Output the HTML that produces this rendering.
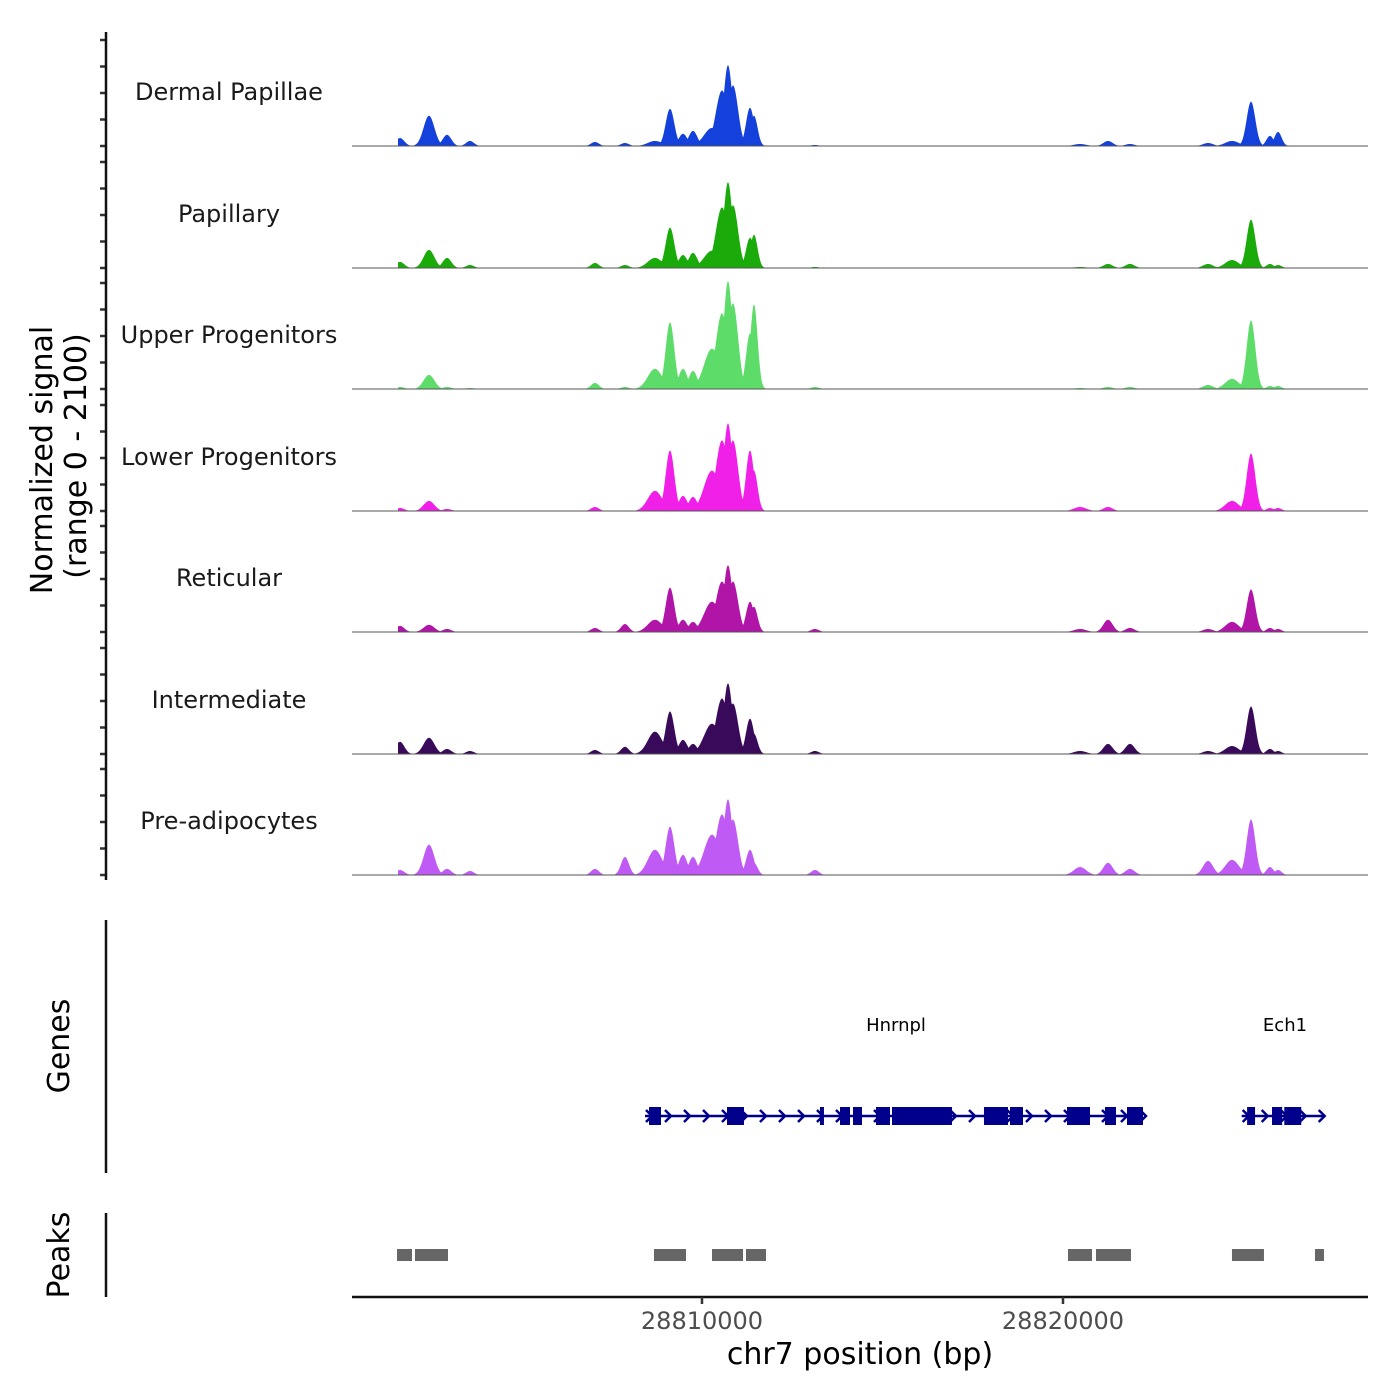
<!DOCTYPE html>
<html><head><meta charset="utf-8"><style>
body{margin:0;background:#fff}
svg{display:block;font-family:"DejaVu Sans","Liberation Sans",sans-serif}
</style></head><body>
<svg id="chart" width="1400" height="1400" viewBox="0 0 1400 1400" xmlns="http://www.w3.org/2000/svg">
<rect width="1400" height="1400" fill="#fff"/>
<g id="tracks"></g>
<g id="axes"></g>
<g id="genes"></g>
<g id="peaks"></g>
</svg>
<script>
const trackNames=["Dermal Papillae","Papillary","Upper Progenitors","Lower Progenitors","Reticular","Intermediate","Pre-adipocytes"];
const trackColors=["#1440dc","#1aaa0a","#5ddc6a","#f020e8","#b015a8","#3a0a5a","#c05af5"];
const peakPos=[28801635,28802438,28802937,28803574,28807036,28807867,28808698,28809114,28809474,28809751,28810277,28810554,28810720,28810859,28811330,28811440,28813130,28820472,28821247,28821856,28824018,28824683,28825208,28825734,28825956];
const peakWidth=[120,150,120,110,110,110,200,120,120,120,220,170,120,140,110,100,110,170,130,130,140,190,120,100,100];
const sigDP =[150,570,210,95,76,57,95,700,230,285,340,1045,1520,1140,720,570,19,38,95,38,57,95,835,190,265];
const sigPap=[115,340,190,57,95,57,190,760,245,285,325,1140,1615,1180,570,625,19,19,76,76,76,150,910,76,57];
const sigUP =[38,265,38,19,115,38,380,1255,380,340,760,1425,2030,1615,1045,1595,38,19,38,38,76,190,1290,57,57];
const sigLP =[57,190,38,0,76,0,380,1140,285,265,760,1330,1650,1330,1140,760,0,76,76,0,0,190,1080,57,57];
const sigRet=[115,135,57,0,76,150,230,835,230,190,570,950,1255,950,570,475,57,57,230,76,57,190,800,76,57];
const sigInt=[230,305,95,57,76,135,420,800,265,190,570,1045,1330,950,665,380,57,57,190,190,57,150,895,95,57];
const sigPre=[95,570,115,76,115,340,475,910,380,340,760,1140,1425,1045,475,230,95,150,230,115,265,285,1045,150,95];
const allSignals=[sigDP,sigPap,sigUP,sigLP,sigRet,sigInt,sigPre];
const baselines=[146,268,389,511,632,754,875];
const xTicks=[28810000,28820000];
const exonsHnrnpl=[[28808532,28808864],[28810693,28811163],[28813269,28813379],[28813823,28814100],[28814183,28814432],[28814820,28815208],[28815263,28816925],[28817811,28818476],[28818532,28818892],[28820111,28820748],[28821163,28821468],[28821773,28822216]];
const exonsEch1=[[28825100,28825320],[28825790,28826070],[28826130,28826600]];
const peakRegions=[[28801552,28801967],[28802050,28802964],[28808670,28809557],[28810277,28811136],[28811219,28811773],[28820138,28820803],[28820914,28821883],[28824681,28825567],[28826980,28827229]];

const NS="http://www.w3.org/2000/svg";
const X0=352,X1=1368,BP0=28800305,BP1=28828449;
function xs(bp){return X0+(bp-BP0)/(BP1-BP0)*(X1-X0);}
function ys(v,b){return b-v/2100*111.5;}
function mk(tag,attrs,parent){const e=document.createElementNS(NS,tag);for(const k in attrs)e.setAttribute(k,attrs[k]);parent.appendChild(e);return e;}
const gT=document.getElementById('tracks'),gA=document.getElementById('axes'),gG=document.getElementById('genes'),gP=document.getElementById('peaks');

allSignals.forEach((sig,t)=>{
  const b=baselines[t];
  let d=`M398,${b}`;
  for(let px=398;px<=1300;px+=0.5){
    const bp=BP0+(px-X0)/(X1-X0)*(BP1-BP0);
    let v=0;
    for(let i=0;i<peakPos.length;i++){const dd=(bp-peakPos[i])/peakWidth[i];v=Math.max(v,sig[i]*Math.exp(-dd*dd/2));}
    d+=` L${px},${ys(v,b).toFixed(2)}`;
  }
  d+=` L1300,${b} Z`;
  const p=mk('path',{d:d,fill:trackColors[t]},gT);
  
  
  const l=mk('line',{x1:X0,x2:X1,y1:b,y2:b,stroke:'#555','stroke-width':1},gT);
  
  
  const tx=mk('text',{x:229,y:b-46,'text-anchor':'middle','font-size':24,fill:'#1a1a1a'},gT);
  tx.textContent=trackNames[t];
  
  
  for(let k=0;k<=4;k++){
    const ty=b-k*26.5;
    const tk=mk('line',{x1:100,x2:106,y1:ty,y2:ty,stroke:'#333','stroke-width':2.5},gA);
    
    
  }
});
[[32,880],[920,1173],[1213,1297]].forEach(s=>{
  const l=mk('line',{x1:106,x2:106,y1:s[0],y2:s[1],stroke:'#111','stroke-width':2.5},gA);
  
  
});
function vlabel(txt,x,y,name,size){const t=mk('text',{x:0,y:0,transform:`translate(${x},${y}) rotate(-90)`,'text-anchor':'middle','font-size':size,fill:'#000'},gA);t.textContent=txt;return t;}
vlabel('Normalized signal',52,460,'y-axis-title',30);
vlabel('(range 0 - 2100)',86,456,'y-axis-subtitle',30);
vlabel('Genes',69,1046,'genes-axis-title',30);
vlabel('Peaks',69,1255,'peaks-axis-title',30);
const xl=mk('line',{x1:X0,x2:X1,y1:1297,y2:1297,stroke:'#111','stroke-width':2.5},gA);


xTicks.forEach(v=>{
  const tk=mk('line',{x1:xs(v),x2:xs(v),y1:1297,y2:1304,stroke:'#333','stroke-width':2.5},gA);
  
  
  const t=mk('text',{x:xs(v),y:1329,'text-anchor':'middle','font-size':24,fill:'#4d4d4d'},gA);
  t.textContent=String(v);
  
  
});
const xt=mk('text',{x:860,y:1364,'text-anchor':'middle','font-size':30,fill:'#000'},gA);
xt.textContent='chr7 position (bp)';



function gene(name,start,end,exons,labelX){
  const g=mk('g',{},gG);
  
  
  mk('line',{x1:xs(start),x2:xs(end),y1:1116,y2:1116,stroke:'#00008b','stroke-width':2.5},g);
  for(let x=xs(start)+4;x<xs(end);x+=19){
    mk('path',{d:`M${x-3},${1110} L${x+3},1116 L${x-3},1122`,fill:'none',stroke:'#00008b','stroke-width':2.5},g);
  }
  exons.forEach(e=>mk('rect',{x:xs(e[0]),y:1107,width:xs(e[1])-xs(e[0]),height:18,fill:'#00008b'},g));
  const t=mk('text',{x:labelX,y:1031,'text-anchor':'middle','font-size':18,fill:'#000'},g);
  t.textContent=name;
  
  
}
gene('Hnrnpl',28808421,28822216,exonsHnrnpl,896);
gene('Ech1',28824950,28827220,exonsEch1,1285);
peakRegions.forEach(r=>{
  const p=mk('rect',{x:xs(r[0]),y:1249,width:xs(r[1])-xs(r[0]),height:12,fill:'#666'},gP);
  
  
});
</script>
</body></html>
